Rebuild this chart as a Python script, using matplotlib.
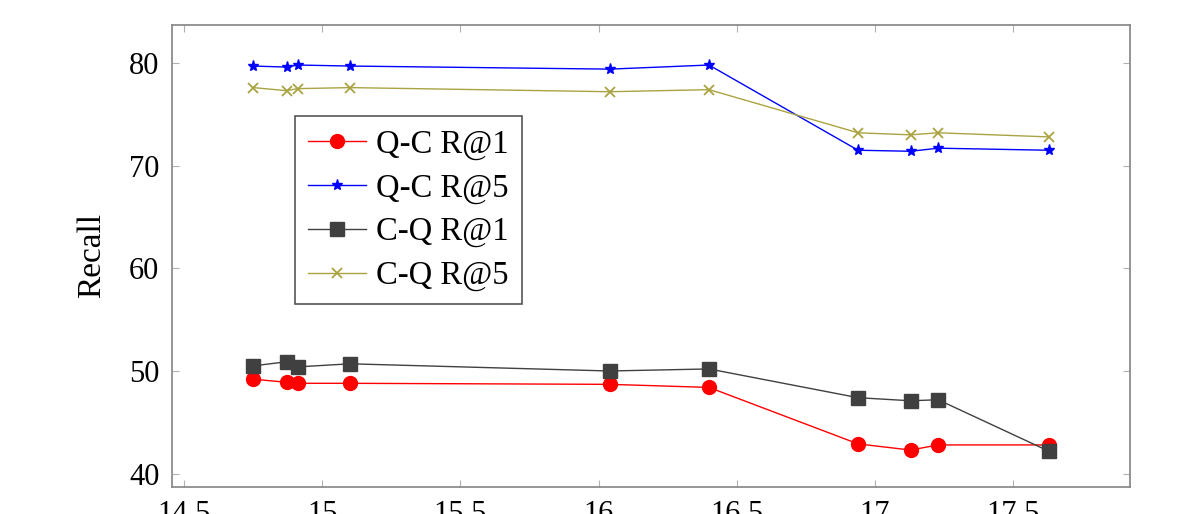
import numpy as np
import matplotlib
matplotlib.use('Agg')
import matplotlib.pyplot as plt

plt.rcParams['font.family'] = ['Liberation Serif', 'DejaVu Serif']

# x positions shared by all four series
x = [14.75, 14.87, 14.91, 15.10, 16.04, 16.40, 16.94, 17.13, 17.23, 17.63]

qc_r1 = [49.2, 48.9, 48.8, 48.8, 48.7, 48.4, 42.9, 42.3, 42.8, 42.8]
qc_r5 = [79.7, 79.6, 79.8, 79.7, 79.4, 79.8, 71.5, 71.4, 71.7, 71.5]
cq_r1 = [50.5, 50.9, 50.4, 50.7, 50.0, 50.2, 47.4, 47.1, 47.2, 42.2]
cq_r5 = [77.6, 77.3, 77.5, 77.6, 77.2, 77.4, 73.2, 73.0, 73.2, 72.8]

labels = ['Q-C R@1', 'Q-C R@5', 'C-Q R@1', 'C-Q R@5']

fig = plt.figure(figsize=(12, 5.14), dpi=100)
ax = fig.add_axes([0.1433, 0.0525, 0.7984, 0.8989])

ax.plot(x, qc_r1, color='red', marker='o', markersize=10, lw=1, label=labels[0])
ax.plot(x, qc_r5, color='blue', marker='*', markersize=8, lw=1, label=labels[1])
ax.plot(x, cq_r1, color='#404040', marker='s', markersize=10, lw=1, label=labels[2])
ax.plot(x, cq_r5, color='#aaa342', marker='x', markersize=7, mew=1.3, lw=1, label=labels[3])

ax.set_xlim(14.455, 17.925)
ax.set_ylim(38.7, 83.7)
ax.set_xticks(np.arange(14.5, 17.6, 0.5))
ax.set_xticklabels(['14.5', '15', '15.5', '16', '16.5', '17', '17.5'])
ax.set_yticks([40, 50, 60, 70, 80])
ax.tick_params(direction='in', length=5, color='#b0b0b0', labelsize=22,
               top=True, right=True, pad=9)
for s in ax.spines.values():
    s.set_color('#8c8c8c')
    s.set_linewidth(1.3)

ax.set_ylabel('Recall', fontsize=24, labelpad=16)

leg = ax.legend(loc='upper left', bbox_to_anchor=(0.128, 0.803), fontsize=23.5,
                fancybox=False, framealpha=1, edgecolor='#555555',
                handlelength=1.8, handletextpad=0.3, borderpad=0.4,
                labelspacing=0.4, borderaxespad=0)
leg.get_frame().set_linewidth(1.2)

fig.savefig('out.png', dpi=100)
